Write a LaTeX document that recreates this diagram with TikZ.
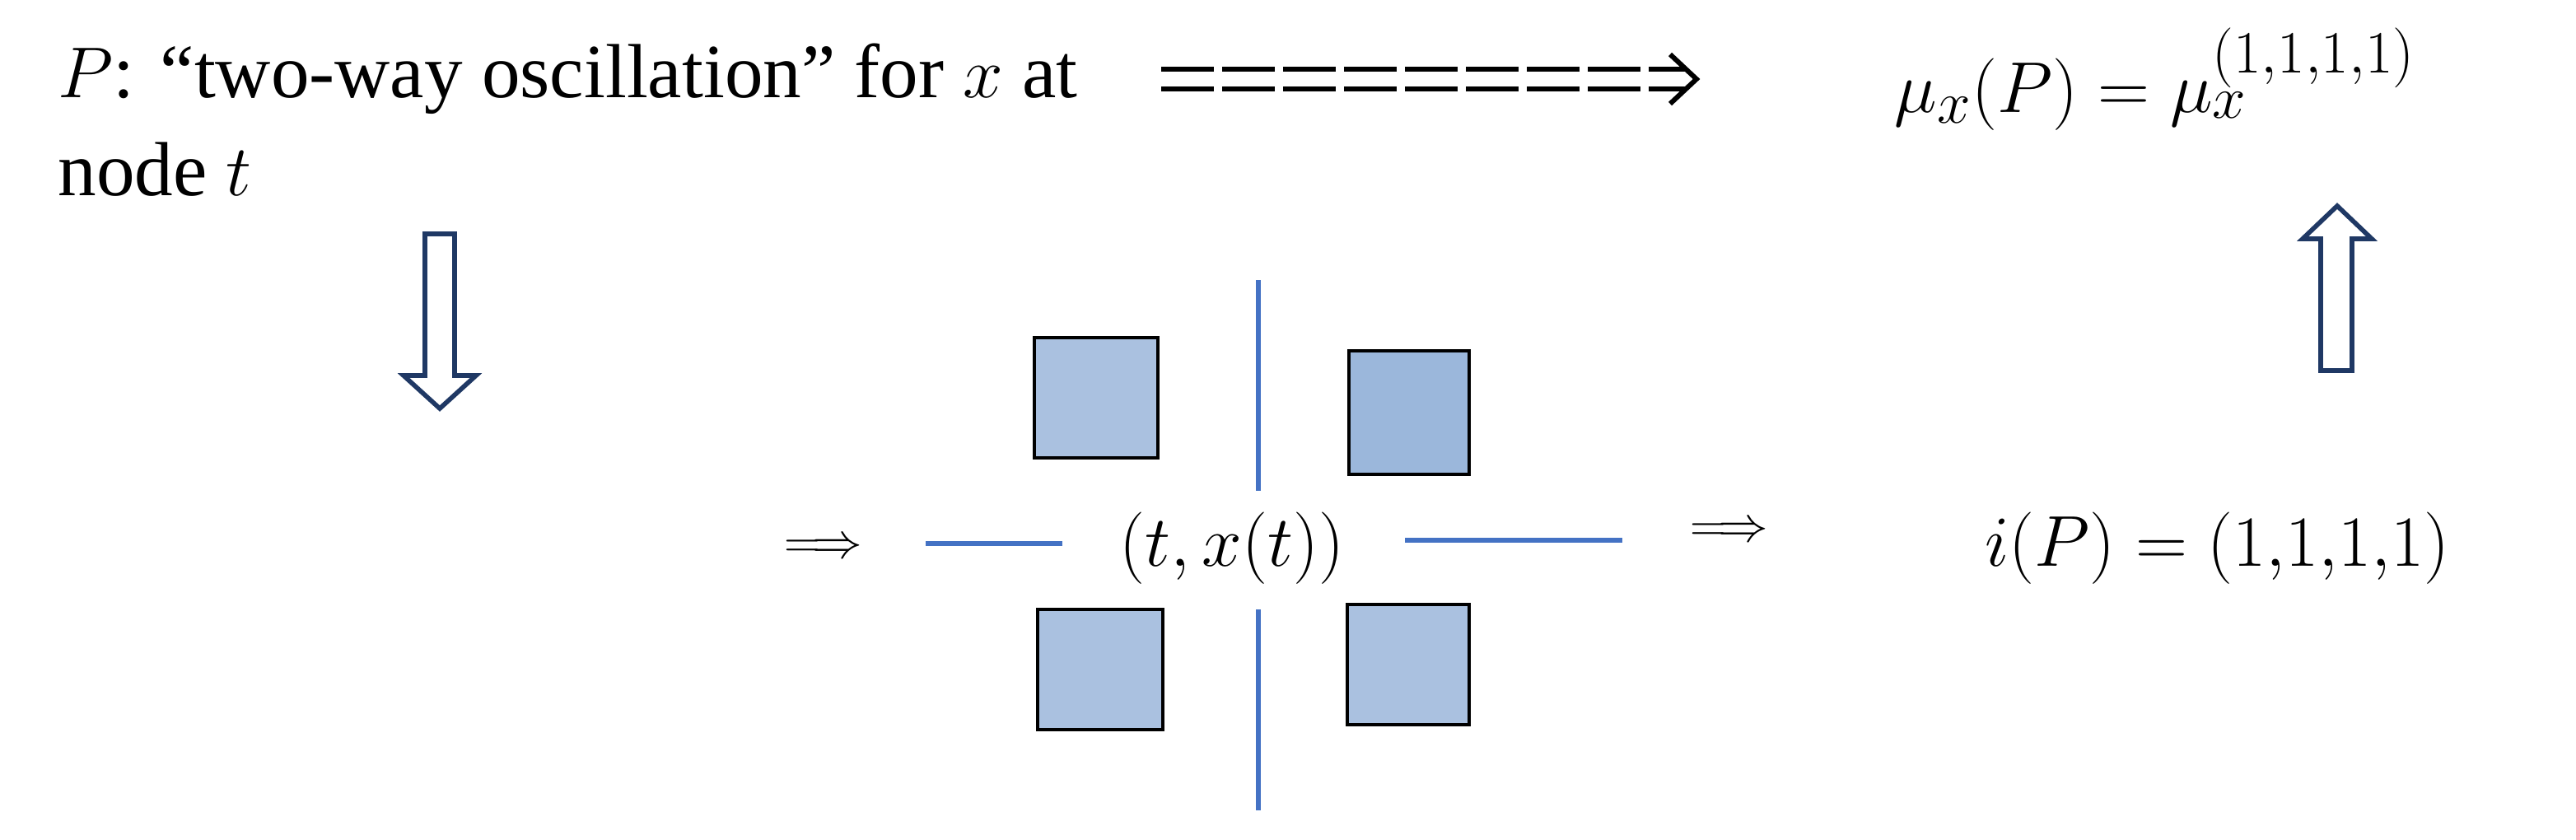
\documentclass[tikz,border=0pt]{standalone}
\usepackage{fontspec}
\setmainfont{Liberation Serif}
\begin{document}
\begin{tikzpicture}[x=0.02cm,y=-0.02cm,
  sq/.style={draw=black,line width=1.1pt},
  ln/.style={draw={rgb,255:red,68;green,114;blue,196},line width=1.6pt},
  hollow/.style={draw={rgb,255:red,31;green,56;blue,100},line width=1.6pt,fill=white},
  txt/.style={inner sep=0pt,font=\fontsize{26.5}{32}\selectfont}]
\useasboundingbox (0,0) rectangle (1564,509.5);
\definecolor{wave}{RGB}{37,64,97}
\definecolor{lb}{RGB}{170,193,224}
\definecolor{db}{RGB}{155,183,219}
% top text
\node[txt,anchor=west] (p1) at (35,48) {$P$: “two-way oscillation” for $x$ at};
\node[txt,anchor=west] (p2) at (35,103) {node $t$};
% dashed double arrow
\foreach \i in {0,...,7} {
  \draw[line width=1.7pt] (705+\i*37,42) -- (737+\i*37,42) (705+\i*37,54) -- (737+\i*37,54);
}
\coordinate (dt) at (1030,48);
\draw[line width=1.7pt] (1001,42) -- (1024,42) (1001,54) -- (1024,54);
\draw[line width=1.7pt,line join=miter] (1014,33) -- (dt) -- (1014,63);
\node[txt,anchor=west,font=\fontsize{30}{34}\selectfont] (mu) at (1150,48) {$\mu_x(P)=\mu_x^{(1{,}1{,}1{,}1)}$};
% hollow arrows
\draw[hollow] (258,142) -- (276,142) -- (276,228) -- (289,228) -- (267,248) -- (245,228) -- (258,228) -- cycle;
\draw[hollow] (1409,225) -- (1428,225) -- (1428,145) -- (1440,145) -- (1419,125) -- (1398,145) -- (1409,145) -- cycle;
% plot
\coordinate (a0) at (15,880);
\coordinate (a1) at (460,880);
\draw[ln] (a0) -- (a1);
\coordinate (tk) at (495,880);
\coordinate (tk2) at (495,680);
\draw[ln] (tk) -- (tk2);
\node[txt,font=\fontsize{34}{40}\selectfont] (tl) at (258,935) {$t$};
\node[txt,font=\fontsize{32.5}{38}\selectfont] (xt) at (185,540) {$x(t)$};
\draw[wave,line width=4.5pt,line join=round,line cap=round] plot[smooth,tension=0.35] coordinates {
(268,722) (275,768) (288,788) (295,615) (305,700) (316,726) (330,622) (345,740) (364,790) (372,622) (388,690) (408,740) (420,632) (434,700) (440,752) (455,638) (476,638) (488,652) (491,684)};
\draw[wave,line width=4.5pt,line join=round,line cap=round] plot[smooth,tension=0.35] coordinates {
(502,690) (506,735) (515,755) (524,752) (522,590) (535,680) (546,692) (560,600) (574,655) (590,762) (600,742) (619,600) (630,680) (646,712) (655,600) (674,700) (683,722) (690,662) (700,608) (712,610) (716,655)};
% arrows
\node[txt,font=\fontsize{17}{20}\selectfont] (ar1) at (500,333) {$\Longrightarrow$};
\node[txt,font=\fontsize{17}{20}\selectfont] (ar2) at (1050,323) {$\Longrightarrow$};
% cross
\node[txt,font=\fontsize{37}{42}\selectfont] (c) at (748,333) {$(t,x(t))$};
\coordinate (v1) at (764,170); \coordinate (v2) at (764,298);
\coordinate (v3) at (764,370); \coordinate (v4) at (764,492);
\coordinate (h1) at (562,330); \coordinate (h2) at (645,330);
\coordinate (h3) at (853,328); \coordinate (h4) at (985,328);
\draw[ln] (v1) -- (v2) (v3) -- (v4) (h1) -- (h2) (h3) -- (h4);
\draw[sq,fill=lb] (628,205) rectangle (703,278);
\draw[sq,fill=db] (819,213) rectangle (892,288);
\draw[sq,fill=lb] (630,370) rectangle (706,443);
\draw[sq,fill=lb] (818,367) rectangle (892,440);
\node[txt,font=\fontsize{33.5}{38}\selectfont,anchor=west] (ip) at (1205,333) {$i(P)=(1{,}1{,}1{,}1)$};
\end{tikzpicture}
\end{document}
